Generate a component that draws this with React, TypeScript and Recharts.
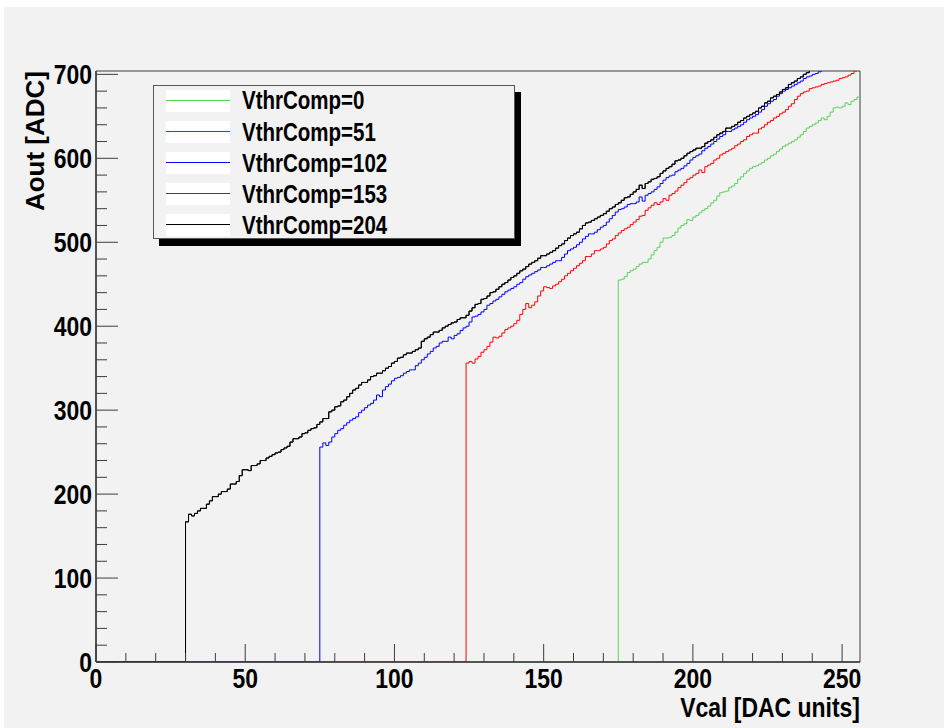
import { LineChart, Line, XAxis, YAxis, ReferenceArea, Legend } from 'recharts';

// ROOT-style Aout vs Vcal histograms for several VthrComp settings

const FONT = "'Liberation Sans', Arial, sans-serif";
const BG = '#f2f2f2';
const AXIS = '#3c3c3c';
// the reference text is a narrow bold face; squeeze the regular one
const SQUEEZE = 0.82;

const seriesNames = ['VthrComp=0', 'VthrComp=51', 'VthrComp=102', 'VthrComp=153', 'VthrComp=204'];
const seriesKeys = ['v0', 'v51', 'v102', 'v153', 'v204'];
const seriesColors = ['#5ad25a', '#ff0000', '#0000ff', '#444444', '#000000'];
// first non-empty bin of each histogram
const startBins = [175, 124, 75, 30, 30];

const xTicks = [0, 10, 20, 30, 40, 50, 60, 70, 80, 90, 100, 110, 120, 130, 140, 150, 160, 170, 180, 190, 200, 210, 220, 230, 240, 250];
const yTicks = [0, 20, 40, 60, 80, 100, 120, 140, 160, 180, 200, 220, 240, 260, 280, 300, 320, 340, 360, 380, 400, 420, 440, 460, 480, 500, 520, 540, 560, 580, 600, 620, 640, 660, 680, 700];

// bins 175..255
const aoutVthr0 = [
  455, 456, 459, 464, 466,
  468, 471, 474, 476, 476, 480, 485, 490, 494, 500,
  505, 505, 506, 508, 512, 517, 520, 522, 527, 526,
  530, 532, 535, 538, 540, 543, 547, 550, 555, 559,
  560, 561, 565, 567, 570, 575, 578, 582, 585, 588,
  590, 591, 593, 595, 598, 600, 603, 605, 608, 611,
  614, 616, 618, 620, 622, 625, 628, 632, 636, 638,
  640, 642, 645, 648, 646, 650, 655, 660, 661, 660,
  662, 666, 664, 668, 670, 673,
];

// bins 124..255
const aoutVthr51 = [
  356, 358, 356, 361, 364, 369,
  372, 376, 381, 387, 386, 388, 392, 396, 398, 400,
  403, 407, 414, 420, 427, 422, 425, 429, 436, 442,
  447, 446, 445, 448, 450, 453, 456, 460, 463, 466,
  469, 472, 475, 478, 483, 483, 486, 490, 490, 492,
  494, 498, 502, 504, 508, 511, 514, 516, 518, 521,
  524, 527, 531, 532, 538, 541, 544, 547, 545, 548,
  552, 550, 556, 558, 561, 565, 568, 571, 575, 577,
  580, 582, 586, 583, 590, 592, 594, 598, 600, 604,
  606, 608, 610, 612, 615, 617, 620, 622, 626, 628,
  630, 630, 635, 637, 640, 643, 645, 648, 650, 653,
  655, 658, 662, 665, 670, 674, 677, 679, 680, 683,
  684, 685, 686, 688, 689, 690, 691, 692, 693, 695,
  696, 697, 699, 701, 704, 706,
];

// bins 75..255
const aoutVthr102 = [
  256, 261, 258, 262, 268,
  272, 276, 278, 282, 285, 288, 290, 292, 297, 300,
  303, 306, 308, 312, 318, 316, 324, 328, 331, 335,
  338, 339, 341, 344, 346, 348, 348, 353, 356, 360,
  363, 367, 370, 374, 376, 380, 382, 382, 387, 385,
  389, 391, 395, 398, 400, 405, 411, 412, 414, 417,
  420, 425, 427, 430, 432, 435, 438, 441, 443, 445,
  447, 450, 452, 456, 459, 461, 463, 465, 467, 470,
  470, 472, 474, 476, 478, 478, 482, 486, 490, 492,
  494, 497, 500, 504, 507, 510, 510, 512, 515, 518,
  520, 524, 528, 532, 536, 539, 540, 542, 545, 546,
  546, 548, 554, 549, 556, 558, 560, 563, 566, 570,
  574, 577, 579, 580, 584, 586, 588, 591, 594, 598,
  601, 603, 605, 609, 612, 614, 617, 620, 623, 626,
  628, 632, 632, 634, 636, 638, 640, 643, 646, 648,
  650, 652, 655, 658, 662, 665, 668, 670, 674, 677,
  680, 682, 684, 686, 688, 690, 692, 695, 697, 698,
  700, 701, 703, 706, 708, 711, 714, 716, 719, 721,
  724, 726, 729, 731, 734, 736,
];

// bins 30..255
const aoutVthr204 = [
  167, 176, 174, 177, 180, 183, 183, 188, 192, 197,
  197, 200, 203, 203, 206, 212, 212, 215, 222, 229,
  229, 228, 234, 234, 236, 240, 240, 243, 245, 247,
  249, 250, 253, 255, 257, 262, 266, 266, 268, 272,
  273, 276, 278, 279, 283, 286, 290, 290, 298, 300,
  304, 305, 310, 312, 316, 320, 324, 326, 330, 333,
  333, 336, 340, 341, 344, 344, 347, 350, 352, 356,
  358, 362, 363, 366, 368, 368, 370, 372, 374, 382,
  385, 387, 390, 393, 393, 395, 398, 400, 402, 404,
  405, 408, 410, 410, 413, 418, 422, 426, 427, 432,
  433, 436, 440, 441, 444, 447, 450, 452, 455, 458,
  460, 463, 466, 468, 471, 474, 476, 478, 481, 484,
  484, 486, 488, 490, 493, 496, 498, 502, 505, 508,
  510, 512, 516, 520, 523, 524, 526, 528, 530, 532,
  534, 537, 540, 542, 545, 547, 550, 553, 554, 557,
  560, 563, 568, 564, 570, 572, 575, 576, 578, 582,
  585, 588, 590, 593, 597, 598, 600, 603, 606, 608,
  610, 612, 612, 614, 618, 620, 622, 625, 628, 630,
  632, 636, 636, 638, 640, 643, 645, 648, 650, 652,
  654, 656, 660, 662, 666, 668, 672, 674, 676, 679,
  682, 684, 688, 690, 692, 695, 697, 700, 702, 705,
  707, 710, 712, 715, 717, 719, 722, 724, 727, 729,
  731, 734, 736, 738, 741, 743,
];

// 153 sits exactly under 204 in the picture
const aoutVthr153 = aoutVthr204;

const seriesValues = [aoutVthr0, aoutVthr51, aoutVthr102, aoutVthr153, aoutVthr204];

// one row per bin edge; the extra row at 256 closes the last bin
const rows: Record<string, number>[] = [];
for (let b = 0; b <= 256; b++) {
  const bin = Math.min(b, 255);
  const row: Record<string, number> = { bin: b };
  seriesKeys.forEach((k, i) => {
    const s = startBins[i];
    row[k] = bin < s ? 0 : seriesValues[i][bin - s];
  });
  rows.push(row);
}

function NarrowText({ x, y, anchor, size, children }: any) {
  return (
    <text
      transform={`translate(${x} ${y}) scale(${SQUEEZE} 1)`}
      textAnchor={anchor}
      fontFamily={FONT}
      fontWeight="bold"
      fontSize={size}
      fill="#000"
    >
      {children}
    </text>
  );
}

function XTick(props: any) {
  const { x, y, payload } = props;
  const major = payload.value % 50 === 0;
  return (
    <g>
      <line x1={x} y1={y} x2={x} y2={y - (major ? 18 : 9)} stroke={AXIS} strokeWidth={1} />
      {major && (
        <NarrowText x={x} y={y + 26} anchor="middle" size={28}>
          {payload.value}
        </NarrowText>
      )}
    </g>
  );
}

function YTick(props: any) {
  const { x, y, payload } = props;
  const major = payload.value % 100 === 0;
  return (
    <g>
      <line x1={x} y1={y} x2={x + (major ? 22 : 11)} y2={y} stroke={AXIS} strokeWidth={1} />
      {major && (
        <NarrowText x={x - 4} y={y + 10} anchor="end" size={28}>
          {payload.value}
        </NarrowText>
      )}
    </g>
  );
}

function XTitle(props: any) {
  const { x, y, width } = props.viewBox;
  return (
    <NarrowText x={x + width} y={y + 55} anchor="end" size={28}>
      Vcal [DAC units]
    </NarrowText>
  );
}

function YTitle(props: any) {
  const { x, y } = props.viewBox;
  const bx = x + 8;
  return (
    <text
      x={bx}
      y={y}
      transform={`rotate(-90, ${bx}, ${y})`}
      textAnchor="end"
      fontFamily={FONT}
      fontWeight="bold"
      fontSize={26}
      fill="#000"
    >
      Aout [ADC]
    </text>
  );
}

function LegendBox() {
  return (
    <div
      style={{
        position: 'relative',
        boxSizing: 'border-box',
        width: 362,
        height: 154,
        border: '1px solid #555',
        background: BG,
        boxShadow: '6px 7px 0 #000',
        fontFamily: FONT,
        fontWeight: 'bold',
        fontSize: 25,
        color: '#000',
      }}
    >
      {seriesNames.map((name, i) => {
        const c = 15.7 + 31.1 * i;
        return (
          <div key={name}>
            <div style={{ position: 'absolute', left: 12, top: c - 12, width: 64, height: 22, background: '#fff' }}>
              <div style={{ position: 'absolute', left: 0, right: 0, top: 10, height: 1, background: seriesColors[i] }} />
            </div>
            <span
              style={{
                position: 'absolute',
                left: 88,
                top: c - 13.3,
                lineHeight: '25px',
                whiteSpace: 'nowrap',
                transform: `scaleX(${SQUEEZE})`,
                transformOrigin: 'left center',
              }}
            >
              {name}
            </span>
          </div>
        );
      })}
    </div>
  );
}

export default function App() {
  return (
    <div style={{ position: 'fixed', left: 0, top: 0, width: 944, height: 728, background: '#fff' }}>
      <div style={{ position: 'absolute', left: 4, top: 7, width: 940, height: 721, background: BG }} />
      <div style={{ position: 'absolute', left: 0, top: 0 }}>
        <LineChart width={944} height={728} data={rows} margin={{ top: 71, right: 84, bottom: 26, left: 36 }}>
          {seriesKeys.map((k, i) => (
            <Line
              key={k}
              type="stepAfter"
              dataKey={k}
              name={seriesNames[i]}
              stroke={i === 3 ? '#000' : seriesColors[i]}
              strokeWidth={1}
              dot={false}
              activeDot={false}
              isAnimationActive={false}
            />
          ))}
          <ReferenceArea x1={0} x2={256} y1={0} y2={704} fill="none" stroke={AXIS} strokeWidth={1} ifOverflow="visible" />
          <XAxis
            dataKey="bin"
            type="number"
            domain={[0, 256]}
            ticks={xTicks}
            interval={0}
            height={40}
            tickSize={0}
            tickMargin={0}
            tick={<XTick />}
            axisLine={{ stroke: AXIS, strokeWidth: 1.5 }}
            tickLine={false}
            label={<XTitle />}
          />
          <YAxis
            type="number"
            domain={[0, 704]}
            allowDataOverflow
            ticks={yTicks}
            interval={0}
            width={60}
            tickSize={0}
            tickMargin={0}
            tick={<YTick />}
            axisLine={{ stroke: AXIS, strokeWidth: 1.5 }}
            tickLine={false}
            label={<YTitle />}
          />
          <Legend
            layout="vertical"
            align="center"
            verticalAlign="middle"
            wrapperStyle={{ left: 153, top: 85, width: 362, height: 154 }}
            content={() => <LegendBox />}
          />
        </LineChart>
      </div>
    </div>
  );
}
